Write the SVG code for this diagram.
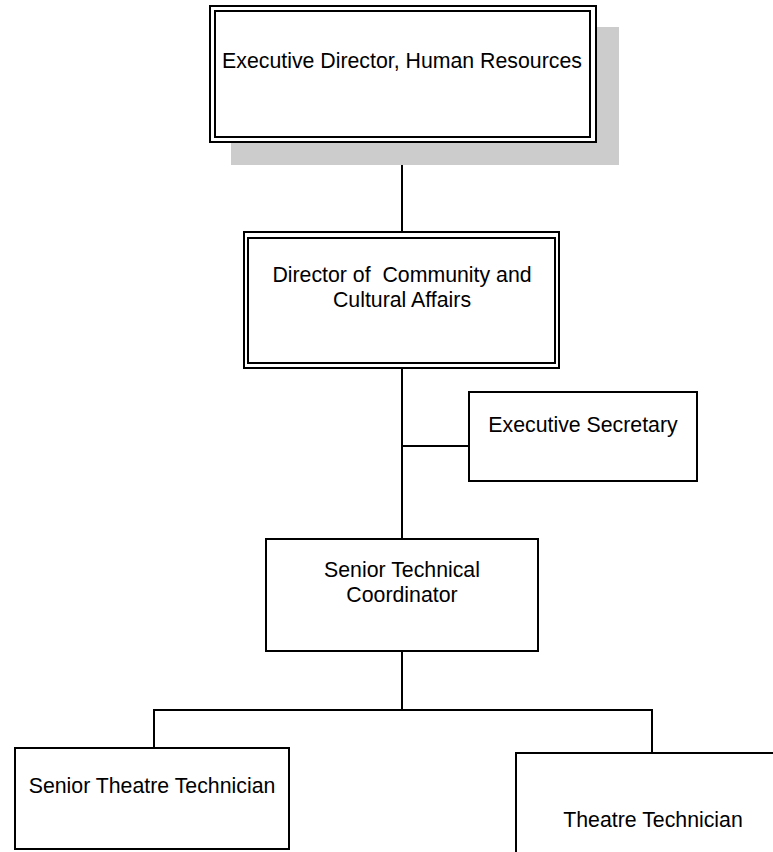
<svg xmlns="http://www.w3.org/2000/svg" width="773" height="852" viewBox="0 0 773 852">
<style>
.box{fill:#ffffff;stroke:#000000;stroke-width:2}
.dbl{fill:none;stroke:#000000;stroke-width:2}
.shadow{fill:#cccccc;stroke:none}
.lbl{font-family:"Liberation Sans",Arial,sans-serif;font-size:21.3px;fill:#000000;text-anchor:middle;white-space:pre}
.conn{stroke:#000000;stroke-width:2;fill:none}
</style>
<rect width="773" height="852" fill="#ffffff"/>
<g id="connectors">
<line class="conn" x1="402" y1="142" x2="402" y2="232"/>
<line class="conn" x1="402" y1="368" x2="402" y2="539"/>
<line class="conn" x1="402" y1="446" x2="469" y2="446"/>
<line class="conn" x1="402" y1="651" x2="402" y2="710"/>
<polyline class="conn" points="154,748 154,710 652,710 652,753"/>
</g>
<g id="exec-director">
<rect class="shadow" x="231" y="27" width="388" height="138"/>
<rect class="box" x="210" y="6" width="386" height="136"/>
<rect class="dbl" x="215" y="11" width="375" height="126"/>
<text class="lbl" x="402" y="68">Executive Director, Human Resources</text>
</g>
<g id="director-community">
<rect class="box" x="244" y="232" width="315" height="136"/>
<rect class="dbl" x="248" y="238" width="307" height="125"/>
<text class="lbl" x="402" y="282" xml:space="preserve">Director of  Community and</text>
<text class="lbl" x="402" y="307">Cultural Affairs</text>
</g>
<g id="executive-secretary">
<rect class="box" x="469" y="392" width="228" height="89"/>
<text class="lbl" x="583" y="432">Executive Secretary</text>
</g>
<g id="senior-technical-coordinator">
<rect class="box" x="266" y="539" width="272" height="112"/>
<text class="lbl" x="402" y="577">Senior Technical</text>
<text class="lbl" x="402" y="602">Coordinator</text>
</g>
<g id="senior-theatre-technician">
<rect class="box" x="15" y="748" width="274" height="101"/>
<text class="lbl" x="152" y="793">Senior Theatre Technician</text>
</g>
<g id="theatre-technician">
<rect class="box" x="516" y="753" width="274" height="110"/>
<text class="lbl" x="653" y="827">Theatre Technician</text>
</g>
</svg>
